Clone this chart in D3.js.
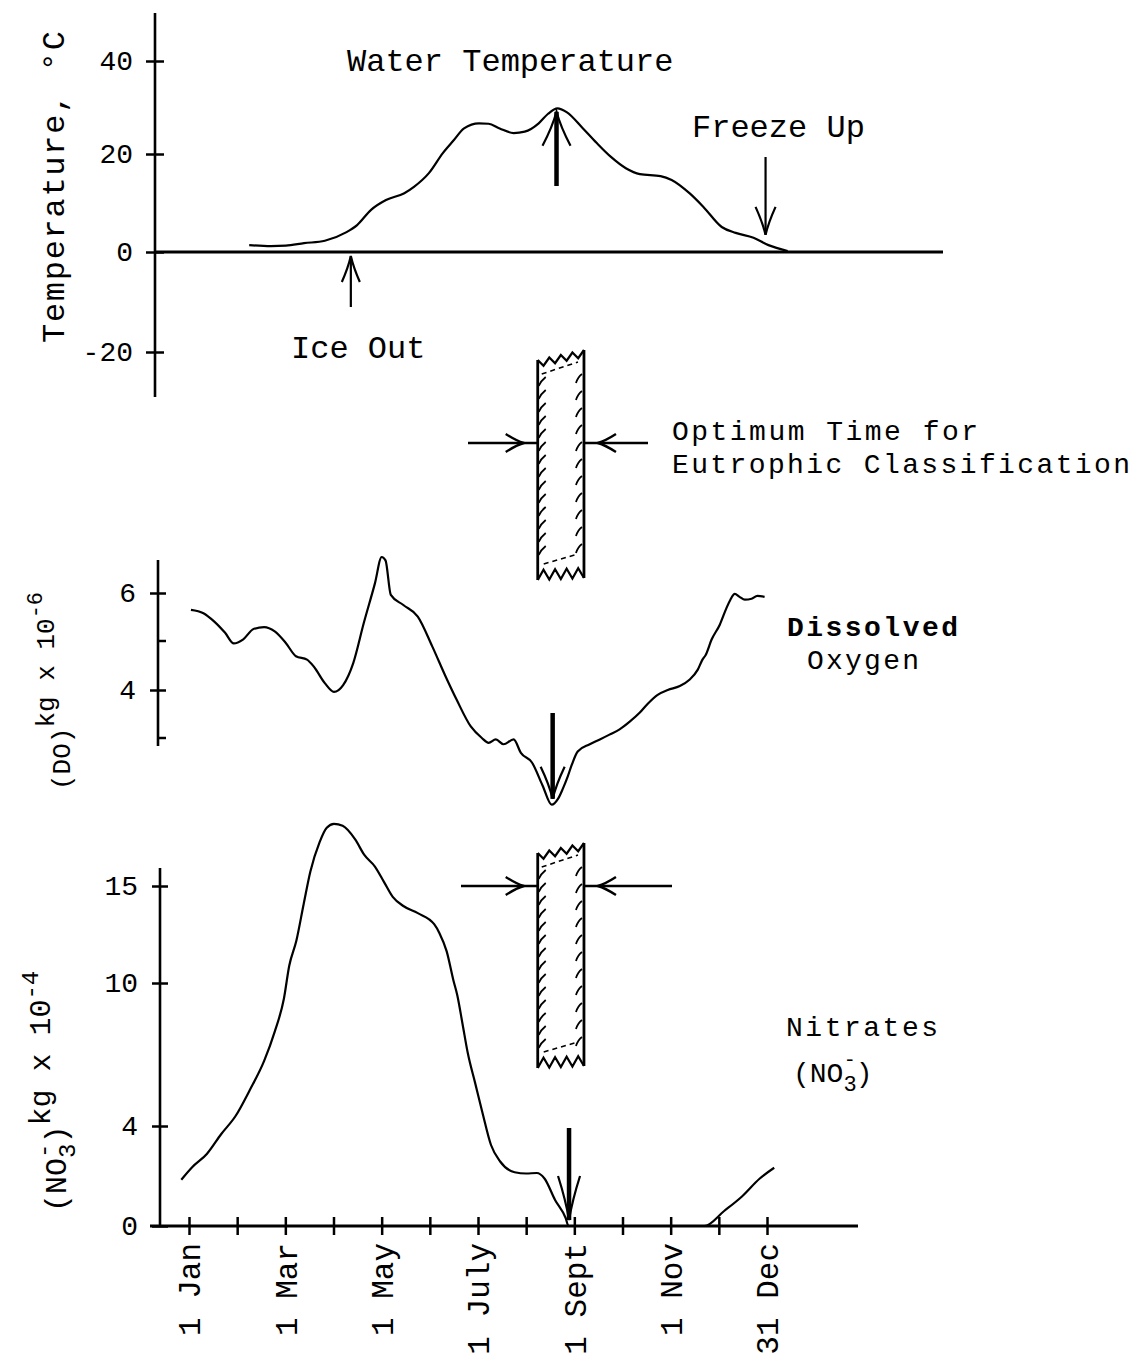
<!DOCTYPE html>
<html><head><meta charset="utf-8">
<script src="https://cdn.jsdelivr.net/npm/d3@7/dist/d3.min.js"></script>
<style>
html,body{margin:0;padding:0;background:#fff;}
svg{display:block;}
text{font-family:"Liberation Mono","DejaVu Sans Mono",monospace;fill:#000;}
</style></head><body>
<svg id="chart" width="1138" height="1370"></svg>
<script>
// ---------------- data ----------------
const monthTicks  = [0,1,2,3,4,5,6,7,8,9,10,11,12];
const monthLabels = ["1 Jan","","1 Mar","","1 May","","1 July","","1 Sept","","1 Nov","","31 Dec"];
const tempTicks = [40,20,0,-20];
const doTicks = [6,4];
const doMinorTicks = [5,3];
const no3Ticks = [15,10,4,0];

const tempMonth = [1.25,1.70,2.01,2.39,2.82,3.26,3.49,3.78,4.09,4.47,4.67,4.98,5.27,5.50,5.71,6.02,6.22,6.45,6.74,6.97,7.26,7.45,7.65,7.84,8.17,8.46,8.76,9.07,9.36,9.79,10.02,10.39,10.68,11.06,11.35,11.72,12.03,12.43];
const tempValue = [1.4,1.2,1.3,1.8,2.3,4.0,5.5,8.6,10.6,12.0,13.3,16.1,20.2,23.0,25.5,26.6,26.5,25.5,24.5,24.8,26.6,28.6,29.8,29.0,25.6,22.4,19.4,17.1,15.9,15.5,14.7,12.0,9.2,5.1,3.9,2.9,1.4,0.2];

const doMonth = [0.04,0.30,0.52,0.75,0.93,1.12,1.34,1.56,1.78,2.01,2.22,2.45,2.59,2.82,3.01,3.20,3.41,3.63,3.86,4.00,4.08,4.19,4.45,4.75,5.05,5.33,5.56,5.85,6.08,6.22,6.37,6.53,6.74,6.89,7.12,7.34,7.53,7.66,7.76,7.86,7.95,8.07,8.32,8.53,8.73,8.94,9.15,9.36,9.52,9.73,9.94,10.19,10.39,10.56,10.66,10.73,10.85,11.02,11.16,11.24,11.33,11.43,11.54,11.68,11.80,11.95];
const doValue = [5.65,5.58,5.41,5.17,4.95,5.03,5.25,5.29,5.20,4.96,4.69,4.62,4.48,4.14,3.96,4.10,4.55,5.38,6.20,6.75,6.68,5.96,5.75,5.51,4.89,4.27,3.79,3.24,3.00,2.90,2.97,2.87,2.97,2.69,2.49,2.01,1.61,1.73,1.94,2.19,2.45,2.72,2.87,2.97,3.07,3.18,3.34,3.53,3.71,3.90,4.00,4.08,4.21,4.41,4.62,4.72,5.03,5.34,5.69,5.86,5.98,5.92,5.86,5.88,5.94,5.92];

const no3Month = [-0.16,0.07,0.37,0.67,0.97,1.26,1.56,1.78,1.97,2.08,2.23,2.38,2.52,2.71,2.86,3.01,3.19,3.45,3.64,3.86,4.05,4.23,4.45,4.75,5.09,5.20,5.35,5.49,5.57,5.68,5.79,5.94,6.09,6.27,6.46,6.76,7.00,7.22,7.38,7.60,7.82,7.88,8.5,10.0,10.7,11.11,11.48,11.85,12.15];
const no3Value = [1.85,2.36,2.88,3.68,4.43,5.50,6.73,7.96,9.34,10.88,12.19,14.06,15.75,17.25,18.0,18.2,18.1,17.4,16.6,16.0,15.2,14.44,13.97,13.6,13.03,12.57,11.63,10.13,9.49,8.27,7.04,5.81,4.58,3.24,2.58,2.15,2.10,2.12,1.9,1.04,0.32,0,0,0,0,0.6,1.18,1.9,2.33];

const iceOutMonth = 3.36;
const freezeUpMonth = 11.97;
const tempPeakMonth = 7.63;
const doMinMonth = 7.55;
const no3MinMonth = 7.89;
const optimumWindow = [7.24, 8.2];

// ---------------- scales ----------------
const svg = d3.select("#chart");
const x  = d3.scaleLinear().domain([0,12]).range([189,767]);
const yT = d3.scaleLinear().domain([-20,0,20,40]).range([352,252,154,61]);
const yD = d3.scaleLinear().domain([3,4,5,6]).range([738,690,641,593]);
const yN = d3.scaleLinear().domain([0,4,10,15]).range([1226,1126,983,886]);

const ink = "#000";
function zip(a,b){return a.map((m,i)=>[m,b[i]]);}

// ---------------- helpers ----------------
function yAxis(scale, ticks, ax, y0, y1, tickHalf, fs){
  const g = svg.append("g").attr("transform",`translate(${ax},0)`);
  g.call(d3.axisLeft(scale).tickValues(ticks).tickSize(0).tickPadding(22).tickFormat(d=>String(d)));
  g.select(".domain").remove();
  g.selectAll(".tick text").attr("font-size",fs).attr("font-family","Liberation Mono, monospace").attr("fill",ink);
  g.selectAll(".tick line").attr("x1",-tickHalf).attr("x2",tickHalf).attr("stroke",ink).attr("stroke-width",2.5);
  g.append("line").attr("x1",0).attr("x2",0).attr("y1",y0).attr("y2",y1).attr("stroke",ink).attr("stroke-width",2.6);
  return g;
}
function vArrow(xp, yTail, yTip, barbLen, barbW, sw){
  const dir = yTip < yTail ? 1 : -1;
  svg.append("line").attr("x1",xp).attr("x2",xp).attr("y1",yTail).attr("y2",yTip)
     .attr("stroke",ink).attr("stroke-width",sw);
  const p = d3.path();
  p.moveTo(xp-barbW, yTip+dir*barbLen);
  p.quadraticCurveTo(xp-barbW*0.3, yTip+dir*barbLen*0.45, xp, yTip);
  p.quadraticCurveTo(xp+barbW*0.3, yTip+dir*barbLen*0.45, xp+barbW, yTip+dir*barbLen);
  svg.append("path").attr("d",p.toString()).attr("fill","none").attr("stroke",ink).attr("stroke-width",2.2);
}
function hArrow(xTail, xEnd, yp, tipX){
  svg.append("line").attr("x1",xTail).attr("x2",xEnd).attr("y1",yp).attr("y2",yp).attr("stroke",ink).attr("stroke-width",2.6);
  const dir = tipX > xTail ? -1 : 1;
  const p = d3.path();
  p.moveTo(tipX+dir*18, yp-9);
  p.quadraticCurveTo(tipX+dir*7, yp-2, tipX, yp);
  p.quadraticCurveTo(tipX+dir*7, yp+2, tipX+dir*18, yp+9);
  svg.append("path").attr("d",p.toString()).attr("fill","none").attr("stroke",ink).attr("stroke-width",2.4);
}
function bar(top, bottom, arrowY, leftFrom, rightTo){
  const xL = x(optimumWindow[0]), xR = x(optimumWindow[1]);
  const g = svg.append("g").attr("fill","none").attr("stroke",ink);
  g.append("line").attr("x1",xL).attr("x2",xL).attr("y1",top+8).attr("y2",bottom).attr("stroke-width",2.8);
  g.append("line").attr("x1",xR).attr("x2",xR).attr("y1",top-2).attr("y2",bottom-2).attr("stroke-width",2.8);
  const n = 8;
  let zt = [], zb = [];
  for(let i=0;i<=n;i++){
    const t=i/n, xx = xL+(xR-xL)*t;
    zt.push([xx, top+8-10*t + (i%2? 7:0)]);
    zb.push([xx, bottom-2*t - (i%2? 10:0)]);
  }
  g.append("path").attr("d",d3.line()(zt)).attr("stroke-width",2.2);
  g.append("path").attr("d",d3.line()(zb)).attr("stroke-width",2.2);
  g.append("path").attr("d",d3.line()([[xL+4,top+22],[xR-6,top+10]])).attr("stroke-width",1.6).attr("stroke-dasharray","5,4");
  g.append("path").attr("d",d3.line()([[xL+6,bottom-16],[xR-6,bottom-26]])).attr("stroke-width",1.6).attr("stroke-dasharray","5,4");
  for(let yy=top+30; yy<bottom-16; yy+=13){
    g.append("path").attr("d",`M${xL+1},${yy+4} Q${xL+3},${yy-1} ${xL+8},${yy-5}`).attr("stroke-width",1.8);
  }
  for(let yy=top+26; yy<bottom-16; yy+=17){
    g.append("path").attr("d",`M${xR-8},${yy+5} Q${xR-6},${yy-1} ${xR-2},${yy-4}`).attr("stroke-width",1.8);
  }
  hArrow(leftFrom, xL, arrowY, xL-14);
  hArrow(rightTo, xR, arrowY, xR+14);
}
function addText(t, xp, yp, fs, opts={}){
  const e = svg.append("text").attr("x",xp).attr("y",yp).attr("font-size",fs).text(t);
  if(opts.bold) e.attr("font-weight","bold");
  if(opts.anchor) e.attr("text-anchor",opts.anchor);
  if(opts.len) e.attr("textLength",opts.len).attr("lengthAdjust","spacing");
  return e;
}
const curve = d3.curveMonotoneX;

// ---------------- temperature panel ----------------
yAxis(yT, tempTicks, 155, 13, 397, 9, 28);
svg.append("line").attr("x1",155).attr("x2",943).attr("y1",yT(0)).attr("y2",yT(0)).attr("stroke",ink).attr("stroke-width",3);
svg.append("path").datum(zip(tempMonth,tempValue))
  .attr("d",d3.line().x(d=>x(d[0])).y(d=>yT(d[1])).curve(curve))
  .attr("fill","none").attr("stroke",ink).attr("stroke-width",2.2);
vArrow(x(iceOutMonth), 307, yT(0)+4, 26, 9, 2.2);
vArrow(x(tempPeakMonth), 186, yT(29.5)+2, 34, 14, 4.5);
vArrow(x(freezeUpMonth), 157, yT(3.5), 28, 10, 2.2);
addText("Water Temperature", 347, 71, 32);
addText("Freeze Up", 692, 137, 32);
addText("Ice Out", 291, 358, 32);
svg.append("text").attr("transform","translate(64,187) rotate(-90)")
  .attr("text-anchor","middle").attr("font-size",32)
  .attr("textLength",312).attr("lengthAdjust","spacing").text("Temperature, °C");

// ---------------- optimum bars ----------------
bar(352, 580, 443, 468, 648);
addText("Optimum Time for", 672, 440, 28, {len:306});
addText("Eutrophic Classification", 672, 473, 28, {len:458});

// ---------------- dissolved oxygen panel ----------------
const gD = yAxis(yD, doTicks, 158, 560, 746, 8, 28);
gD.selectAll(".minor").data(doMinorTicks).enter().append("line")
  .attr("x1",0).attr("x2",8).attr("y1",d=>yD(d)).attr("y2",d=>yD(d)).attr("stroke",ink).attr("stroke-width",2.5);
svg.append("path").datum(zip(doMonth,doValue))
  .attr("d",d3.line().x(d=>x(d[0])).y(d=>yD(d[1])).curve(curve))
  .attr("fill","none").attr("stroke",ink).attr("stroke-width",2.2);
vArrow(x(doMinMonth), 713, yD(1.65)-4, 32, 12, 4.5);
addText("Dissolved", 787, 636, 28, {bold:true, len:171});
addText("Oxygen", 807, 669, 28, {len:112});
{
  const t = svg.append("text").attr("transform","translate(70,790) rotate(-90)").attr("font-size",26);
  t.append("tspan").text("(DO)");
  t.append("tspan").attr("dy",-16).text("kg x 10");
  t.append("tspan").attr("dy",-12).attr("font-size",22).text("-6");
}

// ---------------- nitrate panel ----------------
bar(845, 1068, 886, 461, 672);
yAxis(yN, no3Ticks, 160, 868, 1226, 8, 28);
svg.append("path").datum(zip(no3Month,no3Value))
  .attr("d",d3.line().x(d=>x(d[0])).y(d=>yN(d[1])).curve(curve))
  .attr("fill","none").attr("stroke",ink).attr("stroke-width",2.2);
vArrow(x(no3MinMonth), 1128, yN(0)-6, 44, 11, 4.5);
addText("Nitrates", 786, 1036, 28, {len:152});
{
  const t = svg.append("text").attr("x",793).attr("y",1082).attr("font-size",28);
  t.append("tspan").text("(NO");
  t.append("tspan").attr("font-size",22).attr("dy",9).text("3");
  t.append("tspan").attr("font-size",20).attr("dx",-13).attr("dy",-25).text("-");
  t.append("tspan").attr("dy",16).text(")");
}
{
  const t = svg.append("text").attr("transform","translate(66,1212) rotate(-90)").attr("font-size",30);
  t.append("tspan").text("(NO");
  t.append("tspan").attr("font-size",24).attr("dy",9).text("3");
  t.append("tspan").attr("font-size",24).attr("dx",-14.4).attr("dy",-24).text("-");
  t.append("tspan").attr("dy",15).text(")");
  t.append("tspan").attr("dy",-16).text("kg x 10");
  t.append("tspan").attr("dy",-12).attr("font-size",24).text("-4");
}

// ---------------- month axis ----------------
const gx = svg.append("g").attr("transform",`translate(0,${yN(0)})`);
gx.call(d3.axisBottom(x).tickValues(monthTicks).tickSize(0).tickFormat((d,i)=>monthLabels[i]));
gx.select(".domain").remove();
gx.append("line").attr("x1",150).attr("x2",858).attr("y1",0).attr("y2",0).attr("stroke",ink).attr("stroke-width",3);
gx.selectAll(".tick line").attr("y1",-9).attr("y2",9).attr("stroke",ink).attr("stroke-width",2.5);
gx.selectAll(".tick text").attr("font-size",31).attr("font-family","Liberation Mono, monospace").attr("fill",ink)
  .attr("transform","rotate(-90)").attr("x",-17).attr("y",0).attr("dy","0.35em").attr("text-anchor","end");
</script>
</body></html>
